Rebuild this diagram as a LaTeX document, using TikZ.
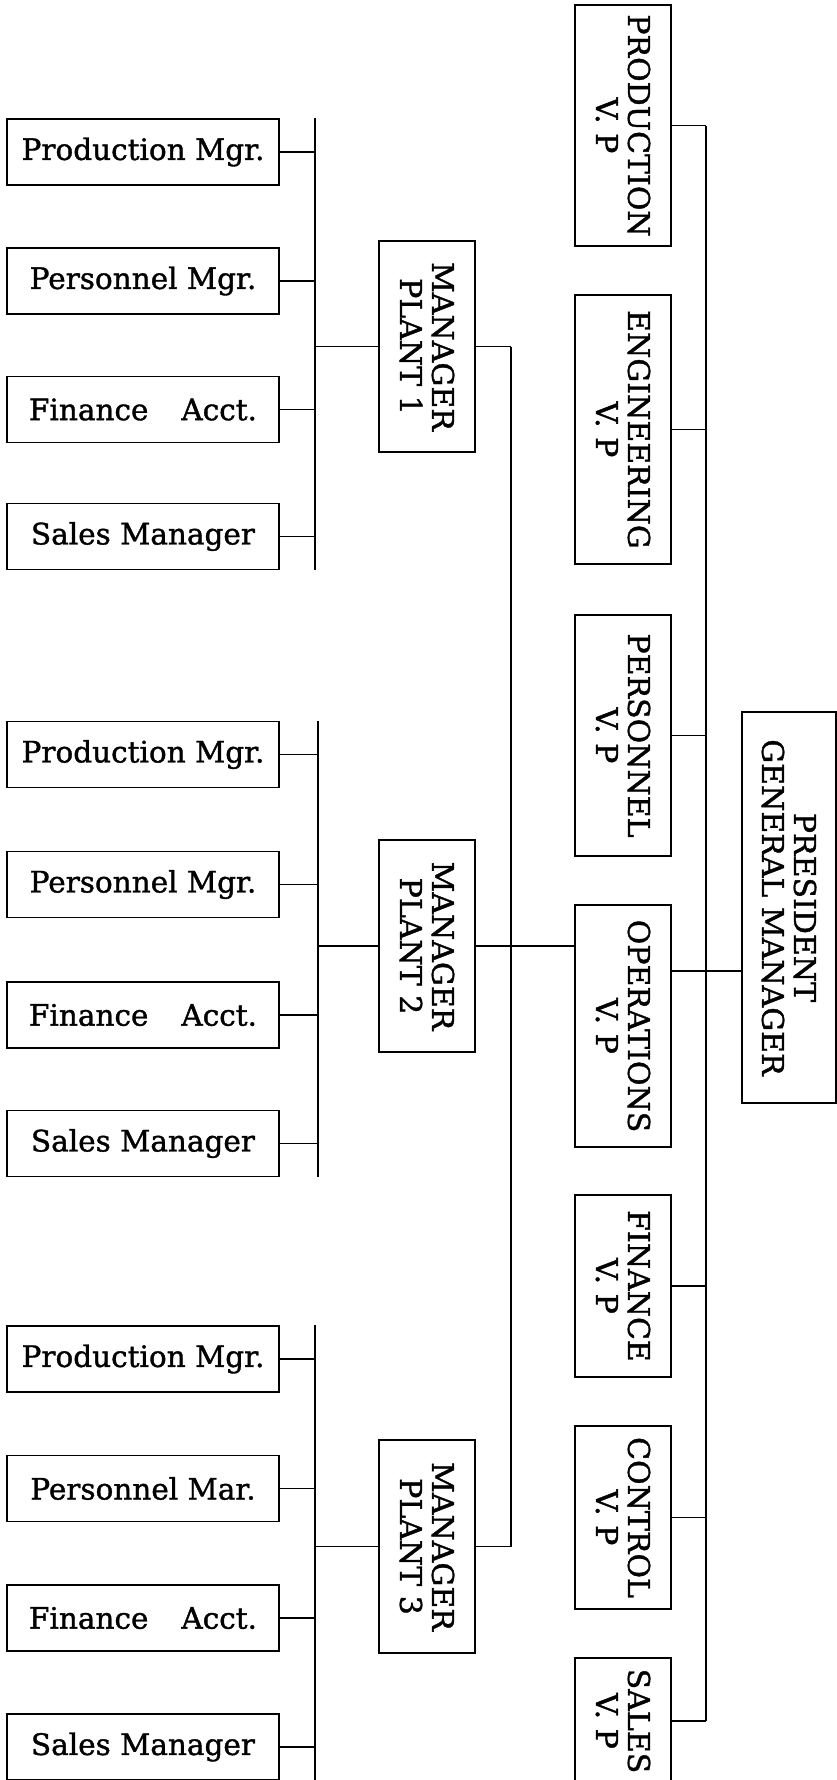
\documentclass[tikz,border=0pt]{standalone}
\usepackage{fontspec}
\setmainfont{DejaVu Serif}[AutoFakeBold=1.2]
\begin{document}
\begin{tikzpicture}[x=1pt,y=-1pt,
  lbox/.style={draw, line width=1.1pt, minimum width=272pt, minimum height=66pt, inner sep=0pt,
    font=\fontsize{29.5}{32}\selectfont\bfseries},
  vbox/.style={draw, line width=1.1pt, minimum width=96pt, minimum height=#1, inner sep=0pt},
  vtext/.style={rotate=-90, align=center, inner sep=0pt, font=\fontsize{30}{32}\selectfont\bfseries},
  conn/.style={line width=1.1pt}]
\useasboundingbox (0,0) rectangle (837,1780);

% ---------- left column: department managers ----------
\node[lbox] (a1) at (143,152)   {Production Mgr.};
\node[lbox] (a2) at (143,281)   {Personnel Mgr.};
\node[lbox] (a3) at (143,409.5) {Finance\hspace{0.8em} Acct.};
\node[lbox] (a4) at (143,536.5) {Sales Manager};

\node[lbox] (b1) at (143,754.5)  {Production Mgr.};
\node[lbox] (b2) at (143,884.5)  {Personnel Mgr.};
\node[lbox] (b3) at (143,1015)   {Finance\hspace{0.8em} Acct.};
\node[lbox] (b4) at (143,1143.5) {Sales Manager};

\node[lbox] (c1) at (143,1359)   {Production Mgr.};
\node[lbox] (c2) at (143,1488.5) {Personnel Mar.};
\node[lbox] (c3) at (143,1618)   {Finance\hspace{0.8em} Acct.};
\node[lbox] (c4) at (143,1747)   {Sales Manager};

% ---------- plant managers ----------
\node[vbox=211pt] (m1) at (427,346.5) {};
\node[vtext] at (m1) {MANAGER\\PLANT 1};
\node[vbox=212pt] (m2) at (427,946) {};
\node[vtext] at (m2) {MANAGER\\PLANT 2};
\node[vbox=213pt] (m3) at (427,1546.5) {};
\node[vtext] at (m3) {MANAGER\\PLANT 3};

% ---------- vice presidents ----------
\node[vbox=241pt] (v1) at (623,125.5) {};
\node[vtext] at (v1) {PRODUCTION\\V. P};
\node[vbox=269pt] (v2) at (623,429.5) {};
\node[vtext] at (v2) {ENGINEERING\\V. P};
\node[vbox=241pt] (v3) at (623,735.5) {};
\node[vtext] at (v3) {PERSONNEL\\V. P};
\node[vbox=242pt] (v4) at (623,1026) {};
\node[vtext] at (v4) {OPERATIONS\\V. P};
\node[vbox=182pt] (v5) at (623,1286) {};
\node[vtext] at (v5) {FINANCE\\V. P};
\node[vbox=183pt] (v6) at (623,1517.5) {};
\node[vtext] at (v6) {CONTROL\\V. P};
\node[vbox=126pt] (v7) at (623,1721) {};
\node[vtext] at (v7) {SALES\\V. P};

% ---------- president ----------
\node[draw, line width=1.1pt, minimum width=94pt, minimum height=391pt, inner sep=0pt] (p) at (789,907.5) {};
\node[vtext] at (p) {PRESIDENT\\GENERAL MANAGER};

% ---------- bus coordinates ----------
\coordinate (ba) at (315,0);
\coordinate (bb) at (318,0);
\coordinate (bc) at (315,0);
\coordinate (bm) at (511,0);
\coordinate (bv) at (706,0);
\coordinate (ps) at (706,971);

% ---------- connectors: group 1 ----------
\foreach \n in {a1,a2,a3,a4} \draw[conn] (\n.east) -- (\n.east -| ba);
\draw[conn] (a1.north -| ba) -- (a4.south -| ba);
\draw[conn] (m1.west -| ba) -- (m1.west);
% group 2
\foreach \n in {b1,b2,b3,b4} \draw[conn] (\n.east) -- (\n.east -| bb);
\draw[conn] (b1.north -| bb) -- (b4.south -| bb);
\draw[conn] (m2.west -| bb) -- (m2.west);
% group 3
\foreach \n in {c1,c2,c3,c4} \draw[conn] (\n.east) -- (\n.east -| bc);
\draw[conn] (c1.north -| bc) -- (c4.south -| bc);
\draw[conn] (m3.west -| bc) -- (m3.west);

% ---------- plants to operations ----------
\foreach \n in {m1,m2,m3} \draw[conn] (\n.east) -- (\n.east -| bm);
\draw[conn] (m1.east -| bm) -- (m3.east -| bm);
\draw[conn] (m2.east -| bm) -- (m2.east -| v4.west);

% ---------- vice presidents to president ----------
\foreach \n in {v1,v2,v3,v5,v6,v7} \draw[conn] (\n.east) -- (\n.east -| bv);
\draw[conn] (ps -| v4.east) -- (ps);
\draw[conn] (v1.east -| bv) -- (v7.east -| bv);
\draw[conn] (ps) -- (ps -| p.west);
\end{tikzpicture}
\end{document}
